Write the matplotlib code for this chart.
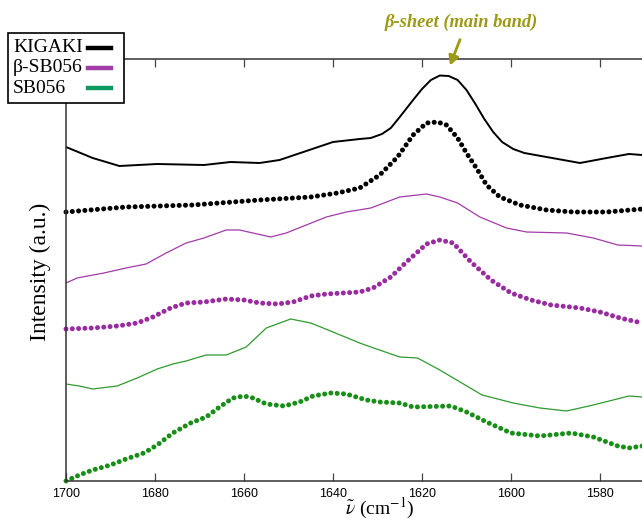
"""
FTIR amide I spectra - KIGAKI, beta-SB056, SB056 (stacked, offset)
"""

import matplotlib
matplotlib.use("Agg")
import matplotlib.pyplot as plt
from matplotlib.lines import Line2D
from matplotlib.patches import Rectangle

# --- data (wavenumber, offset intensity) ---
kigaki_wn = [1700, 1694, 1688, 1679.5, 1669, 1663, 1656.5, 1652, 1646, 1640, 1634, 1631.5,
             1629, 1627, 1625, 1622, 1620, 1618, 1616, 1614, 1612, 1610, 1608, 1606, 1604,
             1602, 1599.5, 1597, 1592, 1584.5, 1578.5, 1573.5, 1570.5]
kigaki_int = [334, 323, 315, 317, 316, 319, 318, 321, 330, 339, 342, 343,
              347, 353, 364, 381, 392, 401, 405.5, 405, 401, 391, 377, 362, 349,
              339, 332, 328, 324, 318, 323, 327, 326]

kigaki_dot_wn = [1700, 1686.5, 1671.5, 1656.5, 1645, 1639, 1634, 1629.5, 1625.5, 1622, 1619,
                 1616.5, 1614.5, 1612, 1610, 1607.5, 1605.5, 1602.5, 1598, 1592, 1586,
                 1578.5, 1570.5]
kigaki_dot_int = [269, 274, 276, 281, 284, 288, 293, 306, 324, 346, 358,
                  359, 356, 343, 328, 311, 296, 284, 276, 271, 269,
                  269, 272]

bsb_wn = [1700, 1697.5, 1691.5, 1686.5, 1682, 1677.5, 1673, 1669, 1664, 1661, 1658, 1654,
          1650.5, 1646, 1641.5, 1637, 1631.5, 1625, 1619, 1616, 1612, 1607, 1601, 1596.5,
          1587.5, 1581.5, 1576, 1570.5]
bsb_int = [198, 203, 208, 213, 217, 228, 238, 243, 251, 251, 248, 244,
           248, 256, 264, 269, 273, 284, 287, 284, 278, 264, 253, 249,
           248, 243, 236, 235]

bsb_dot_wn = [1700, 1694, 1688.5, 1684, 1680.5, 1676.5, 1673, 1669, 1664, 1660, 1656.5,
              1652.5, 1649, 1645, 1641.5, 1634, 1631, 1627, 1623.5, 1619, 1616, 1613, 1609,
              1604.5, 1600, 1595.5, 1591, 1584.5, 1580, 1575.5, 1570.5]
bsb_dot_int = [152, 153, 155, 158, 164, 173, 178, 179, 182, 181, 178,
               177, 179, 185, 187, 189, 193, 204, 219, 237, 241, 238, 219,
               201, 188, 181, 176, 173, 169, 163, 158]

sb_wn = [1700, 1697, 1694, 1688.5, 1684, 1679.5, 1676, 1673, 1668.5, 1664, 1659.5, 1655,
         1649.5, 1645, 1640, 1634, 1631.5, 1625, 1621, 1616, 1606.5, 1599.5, 1593.5,
         1587.5, 1581.5, 1573.5, 1570.5]
sb_int = [97, 95, 92, 95, 103, 112, 117, 120, 126, 126, 134, 153,
          162, 158, 149, 138, 134, 124, 123, 111, 86, 78, 73,
          70, 76, 85, 84]

sb_dot_wn = [1700, 1697, 1694, 1690, 1686.5, 1682.5, 1679.5, 1676, 1672, 1668.5, 1665.5,
             1662.5, 1660, 1658, 1655, 1651, 1647.5, 1644.5, 1640.5, 1637, 1632.5, 1629.5,
             1625, 1622, 1613.5, 1610, 1605.5, 1600, 1593.5, 1586.5, 1581.5, 1576,
             1573.5, 1570.5]
sb_dot_int = [0, 6, 11, 16, 22, 28, 36, 48, 58, 64, 74,
              83, 85, 83, 77, 75, 79, 85, 88, 87, 81, 79,
              78, 74, 75, 69, 59, 48, 45, 48, 44, 35,
              33, 35]

x_ticks = [1700, 1680, 1660, 1640, 1620, 1600, 1580]
legend_labels = ["KIGAKI", "\u03b2-SB056", "SB056"]
legend_colors = ["black", "#a23aa8", "#0d9a5e"]

PURPLE = "#a23aa8"
PURPLE_DOT = "#9a2aa0"
GREEN = "#2f9a2f"
GREEN_DOT = "#178f17"
OLIVE = "#9c9a12"

plt.rcParams["mathtext.fontset"] = "stix"
SERIF = ["Liberation Serif", "DejaVu Serif"]

W, H = 642, 520
fig = plt.figure(figsize=(W / 100, H / 100), dpi=100)
# axes runs off the right edge of the picture, like the reference
ax = fig.add_axes([66 / W, 1 - 481 / H, (644.5 - 66) / W, (481 - 59) / H])

def dotted(x, y, color):
    # beaded line drawn as round dots along the path
    ax.plot(x, y, color=color, lw=3.6, linestyle=(0, (0.01, 1.25)),
            dash_capstyle="round", clip_on=False)

ax.plot(kigaki_wn, kigaki_int, color="black", lw=1.4)
dotted(kigaki_dot_wn, kigaki_dot_int, "black")
ax.plot(bsb_wn, bsb_int, color=PURPLE, lw=0.9)
dotted(bsb_dot_wn, bsb_dot_int, PURPLE_DOT)
ax.plot(sb_wn, sb_int, color=GREEN, lw=0.9)
dotted(sb_dot_wn, sb_dot_int, GREEN_DOT)

ax.set_xlim(1700, 1570)
ax.set_ylim(0, 422)
ax.set_xticks(x_ticks)
ax.set_yticks([])
ax.tick_params(axis="x", direction="in", length=6, width=0.9, color="#444444",
               top=True, labeltop=False, labelsize=9, pad=5)
for lab in ax.get_xticklabels():
    lab.set_family(["Liberation Sans", "DejaVu Sans"])
for s in ax.spines.values():
    s.set_color("#333333")
    s.set_linewidth(1.1)

fig.text(380 / W, 1 - 508 / H, r"$\tilde{\nu}$ (cm$^{-1}$)", ha="center", va="center",
         fontsize=14, family=SERIF)
fig.text(40 / W, 1 - 272 / H, "Intensity (a.u.)", rotation=90, ha="center", va="center",
         fontsize=17, family=SERIF)

# annotation above the main band
fig.text(461 / W, 1 - 22 / H, "\u03b2-sheet (main band)", ha="center", va="center",
         fontsize=13.3, family=SERIF, style="italic", weight="bold", color=OLIVE)
ax.annotate("", xy=(449, H - 68), xycoords="figure pixels",
            xytext=(461, H - 37), textcoords="figure pixels",
            arrowprops=dict(arrowstyle="-|>,head_width=0.3,head_length=0.55",
                            lw=2, color=OLIVE))

# hand-made legend: text left, short thick line right
fig.patches.append(Rectangle((8 / W, 1 - 103 / H), 116 / W, 70 / H,
                             transform=fig.transFigure, facecolor="white",
                             edgecolor="black", lw=1.2, zorder=5))
for i, (lab, col) in enumerate(zip(legend_labels, legend_colors)):
    yc = 1 - (48 + 20 * i) / H
    fig.text(13 / W, yc, lab, ha="left", va="center", fontsize=14, family=SERIF, zorder=6)
    fig.lines.append(Line2D([88 / W, 111 / W], [yc, yc], transform=fig.transFigure,
                            color=col, lw=3.2, zorder=6))

fig.savefig("out.png", dpi=100)
